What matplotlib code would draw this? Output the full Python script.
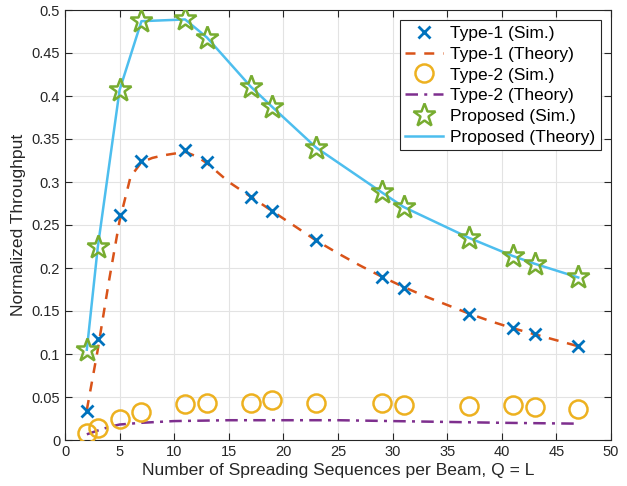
import matplotlib
matplotlib.use('Agg')
import matplotlib.pyplot as plt

# simulation points (prime Q values)
q_sim = [2, 3, 5, 7, 11, 13, 17, 19, 23, 29, 31, 37, 41, 43, 47]
type1_sim = [0.034, 0.117, 0.262, 0.324, 0.337, 0.323, 0.283, 0.266, 0.232,
             0.189, 0.177, 0.147, 0.130, 0.123, 0.109]
type2_sim = [0.008, 0.014, 0.025, 0.033, 0.042, 0.043, 0.043, 0.047, 0.043,
             0.043, 0.041, 0.040, 0.041, 0.038, 0.036]
prop_sim = [0.105, 0.224, 0.407, 0.487, 0.489, 0.468, 0.411, 0.387, 0.340,
            0.288, 0.271, 0.235, 0.214, 0.205, 0.189]

# theory curves
q_t1 = [2, 3, 4, 5, 6, 7, 8, 9, 10, 11, 12, 13, 15, 17, 19, 21, 23, 25, 27,
        29, 31, 33, 35, 37, 39, 41, 43, 45, 47]
type1_th = [0.035, 0.105, 0.183, 0.255, 0.306, 0.323, 0.328, 0.331, 0.333,
            0.335, 0.330, 0.322, 0.300, 0.283, 0.266, 0.249, 0.232, 0.217,
            0.203, 0.190, 0.178, 0.167, 0.157, 0.147, 0.138, 0.130, 0.123,
            0.116, 0.109]
q_t2 = [2, 3, 4, 5, 7, 10, 15, 20, 25, 30, 35, 40, 47]
type2_th = [0.0066, 0.011, 0.015, 0.018, 0.020, 0.022, 0.023, 0.023, 0.023,
            0.022, 0.021, 0.020, 0.019]
prop_th = prop_sim

c_blue = (0, 0.447, 0.741)
c_orange = (0.85, 0.325, 0.098)
c_yellow = (0.929, 0.694, 0.125)
c_purple = (0.494, 0.184, 0.556)
c_green = (0.466, 0.674, 0.188)
c_light = (0.301, 0.745, 0.933)

plt.rcParams['font.family'] = ['Liberation Sans', 'DejaVu Sans']

fig = plt.figure(figsize=(6.27, 4.86), dpi=100)
ax = fig.add_axes([65 / 627, 46 / 486, 546 / 627, 430 / 486])

ax.plot(q_sim, type1_sim, linestyle='', marker='x', markersize=9,
        markeredgewidth=2, color=c_blue, label='Type-1 (Sim.)', zorder=5)
ax.plot(q_t1, type1_th, linestyle=(0, (4, 3.5)), linewidth=1.8,
        color=c_orange, label='Type-1 (Theory)', zorder=3)
ax.plot(q_sim, type2_sim, linestyle='', marker='o', markersize=13,
        markerfacecolor='none', markeredgewidth=1.8, color=c_yellow,
        label='Type-2 (Sim.)', zorder=5)
ax.plot(q_t2, type2_th, linestyle=(0, (5, 2.5, 1.2, 2.5)), linewidth=1.8,
        color=c_purple, label='Type-2 (Theory)', zorder=3)
ax.plot(q_sim, prop_sim, linestyle='', marker='*', markersize=17,
        markerfacecolor='none', markeredgewidth=1.8, color=c_green,
        label='Proposed (Sim.)', zorder=5)
ax.plot(q_sim, prop_th, linestyle='-', linewidth=1.8, color=c_light,
        label='Proposed (Theory)', zorder=3)

ax.set_xlim(0, 50)
ax.set_ylim(0, 0.5)
ax.set_xticks(range(0, 51, 5))
yt = [i * 0.05 for i in range(11)]
ax.set_yticks(yt)
ax.set_yticklabels(['0', '0.05', '0.1', '0.15', '0.2', '0.25', '0.3', '0.35',
                    '0.4', '0.45', '0.5'])
ax.tick_params(direction='in', top=True, right=True, labelsize=10.5,
               colors='#262626', length=5, width=0.8)
ax.grid(True, color='#e3e3e3', linewidth=0.8)
ax.set_axisbelow(True)
for s in ax.spines.values():
    s.set_color('#262626')
    s.set_linewidth(0.8)

ax.set_xlabel('Number of Spreading Sequences per Beam, Q = L', fontsize=12.6,
              color='#262626', labelpad=3)
ax.set_ylabel('Normalized Throughput', fontsize=12.6, color='#262626',
              labelpad=4)

leg = ax.legend(loc='upper right', fontsize=12.5, fancybox=False,
                framealpha=1, edgecolor='#262626', borderpad=0.3,
                labelspacing=0.33, handlelength=2.2, handletextpad=0.4,
                borderaxespad=0.6)
leg.get_frame().set_linewidth(0.8)

fig.savefig('out.png', dpi=100)
